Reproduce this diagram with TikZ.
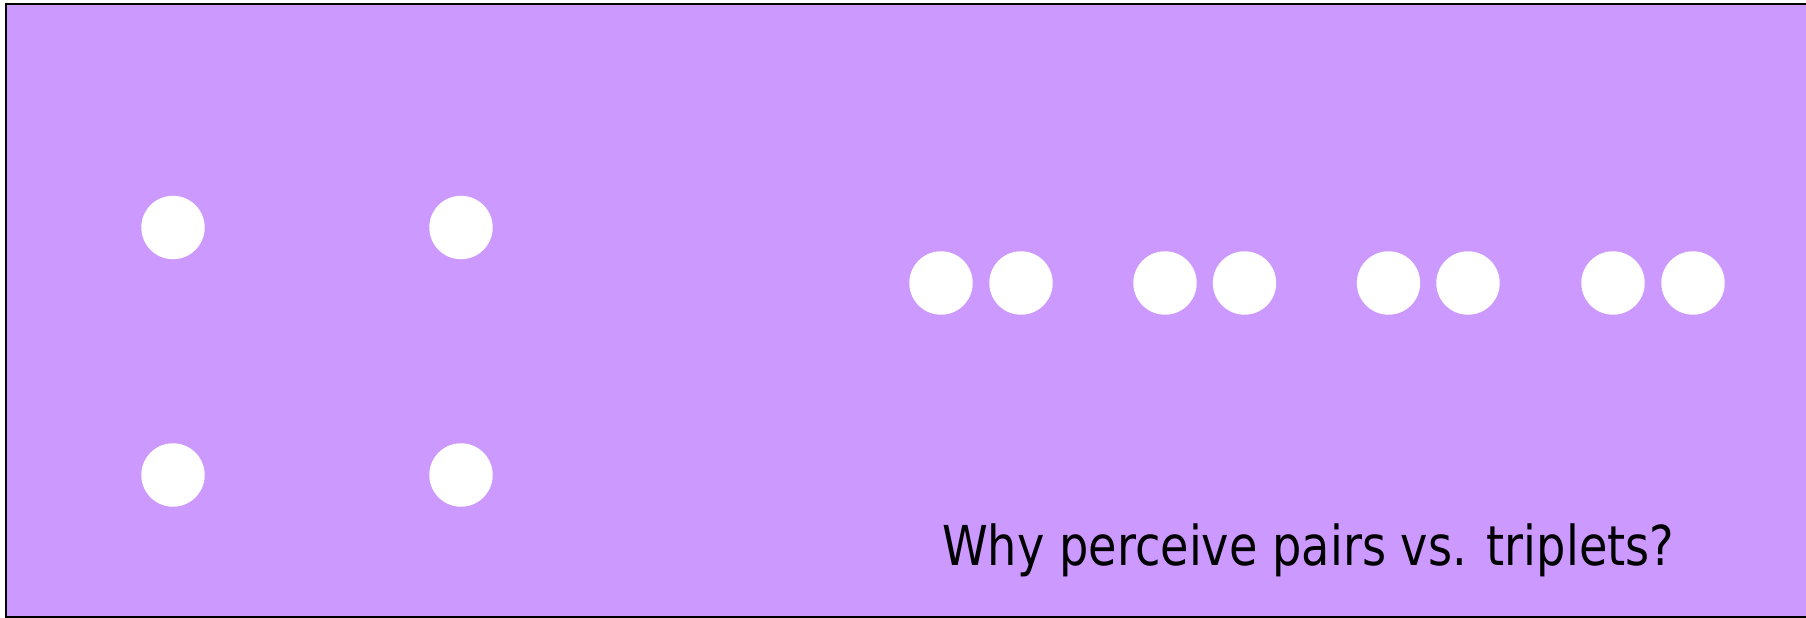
\documentclass[tikz,border=0pt]{standalone}
\usepackage{fontspec}
\setmainfont{DejaVu Sans}
\definecolor{bgpurple}{RGB}{204,153,255}
\tikzset{
  dot/.style={circle, fill=white, draw=none, minimum size=63.4pt, inner sep=0pt},
  panel/.style={fill=bgpurple, draw=black, line width=1.8pt},
  caption/.style={anchor=base west, inner sep=0pt, font=\fontsize{55}{66}\selectfont}
}
\begin{document}
\begin{tikzpicture}[x=1pt,y=-1pt]
\useasboundingbox (0,0) rectangle (1806,618);
\begin{scope}
\clip (0,0) rectangle (1806,618);
\path[panel] (6,4) rectangle (1830,617);
\end{scope}
\node[dot] (a1) at (173,227.5) {};
\node[dot] (a2) at (461,227.5) {};
\node[dot] (a3) at (173,475) {};
\node[dot] (a4) at (461,475) {};
\node[dot] (b1) at (941,283) {};
\node[dot] (b2) at (1021,283) {};
\node[dot] (b3) at (1165,283) {};
\node[dot] (b4) at (1244.5,283) {};
\node[dot] (b5) at (1388.5,283) {};
\node[dot] (b6) at (1468,283) {};
\node[dot] (b7) at (1613,283) {};
\node[dot] (b8) at (1693,283) {};
\node[caption] (t) at (942,565) {\resizebox{732pt}{\height}{Why perceive pairs vs. triplets?}};
\end{tikzpicture}
\end{document}
